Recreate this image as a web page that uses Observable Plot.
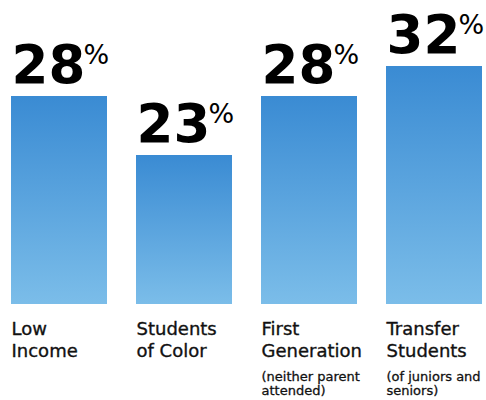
<!DOCTYPE html>
<html><head><meta charset="utf-8">
<script src="https://cdn.jsdelivr.net/npm/d3@7"></script>
<script src="https://cdn.jsdelivr.net/npm/@observablehq/plot@0.6"></script>
<style>body{margin:0;background:#fff} svg{display:block}</style>
</head><body><div id="chart"></div>
<script>
const categories = ["Low Income", "Students of Color", "First Generation", "Transfer Students"];
const labels = ["Low\nIncome", "Students\nof Color", "First\nGeneration", "Transfer\nStudents"];
const notes = ["", "", "(neither parent\nattended)", "(of juniors and\nseniors)"];
const values = [28, 23, 28, 32];

const data = categories.map((c, i) => ({category: c, label: labels[i], note: notes[i], value: values[i]}));
const font = "DejaVu Sans";

const chart = Plot.plot({
  width: 486,
  height: 400,
  marginTop: 0,
  marginLeft: 11,
  marginRight: 4,
  marginBottom: 96,
  style: {fontFamily: font, background: "#fff"},
  x: {domain: categories, paddingInner: 0.232, paddingOuter: 0, axis: null},
  // the original bars are drawn on a non-proportional (piecewise) scale
  y: {type: "linear", domain: [0, 23, 28, 32], range: [304, 155, 96, 66], axis: null},
  marks: [
    Plot.barY(data, {x: "category", y: "value", fill: "url(#barGrad)"}),
    Plot.text(data, {x: "category", y: "value", text: d => String(d.value), textAnchor: "start", dx: -48,
      lineAnchor: "top", dy: -51, fontSize: 53, fontWeight: "bold", fill: "#000"}),
    Plot.text(data, {x: "category", y: "value", text: d => "%", textAnchor: "start", dx: 24,
      lineAnchor: "top", dy: -52, fontSize: 27, fill: "#000"}),
    Plot.text(data, {x: "category", text: "label", frameAnchor: "bottom", textAnchor: "start", dx: -48,
      lineAnchor: "top", dy: 15, fontSize: 18, lineHeight: 1.22, fill: "#111", stroke: "#111", strokeWidth: 0.35}),
    Plot.text(data, {x: "category", text: "note", frameAnchor: "bottom", textAnchor: "start", dx: -48,
      lineAnchor: "top", dy: 66.5, fontSize: 13, lineHeight: 1.1, fill: "#111", stroke: "#111", strokeWidth: 0.3})
  ]
});

const svg = d3.select(chart);
const defs = svg.insert("defs", ":first-child");
const g = defs.append("linearGradient").attr("id", "barGrad").attr("x1", 0).attr("y1", 0).attr("x2", 0).attr("y2", 1);
g.append("stop").attr("offset", "0%").attr("stop-color", "#3a8bd3");
g.append("stop").attr("offset", "100%").attr("stop-color", "#7bbde9");

document.getElementById("chart").appendChild(chart);
</script>
</body></html>
